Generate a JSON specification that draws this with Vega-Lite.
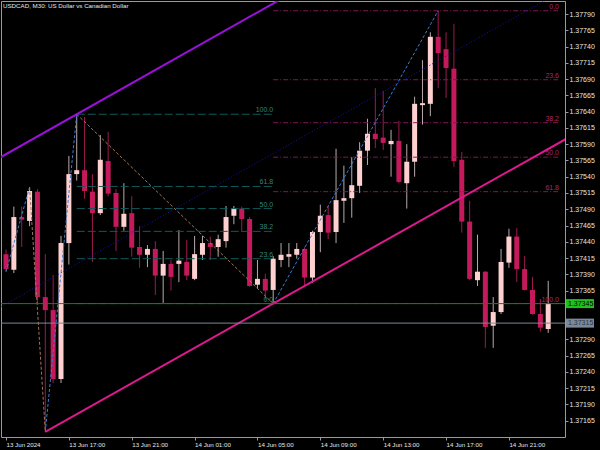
{
  "$schema": "https://vega.github.io/schema/vega-lite/v6.json",
  "width": 564,
  "height": 436,
  "autosize": {"type": "none"},
  "padding": {"left": 1, "top": 1, "right": 35, "bottom": 13},
  "background": "#000000",
  "config": {
    "view": {"stroke": "#9a9a9a", "strokeWidth": 1},
    "font": "Liberation Sans",
    "axis": {"labelFont": "Liberation Sans", "labelFontSize": 7, "labelColor": "#e6e6e6", "tickColor": "#9a9a9a", "domain": false, "grid": false, "title": null, "labelOverlap": false, "labelBound": false, "labelFlush": false},
    "axisX": {"labelFontSize": 6.2}
  },
  "title": {"text": "USDCAD, M30:  US Dollar vs Canadian Dollar", "anchor": "start", "frame": "group", "offset": -8, "fontSize": 6.2, "font": "Liberation Sans", "fontWeight": "normal", "color": "#e6e6e6", "dx": 2},
  "resolve": {"scale": {"color": "independent", "stroke": "independent"}},
  "datasets": {
    "bars": [
      {"t": "2024-06-13T13:00", "o": 1.37421, "h": 1.37428, "l": 1.37394, "c": 1.37398},
      {"t": "2024-06-13T13:30", "o": 1.37397, "h": 1.37494, "l": 1.37392, "c": 1.37478},
      {"t": "2024-06-13T14:00", "o": 1.37478, "h": 1.37494, "l": 1.37432, "c": 1.37474},
      {"t": "2024-06-13T14:30", "o": 1.37472, "h": 1.37524, "l": 1.37464, "c": 1.37518},
      {"t": "2024-06-13T15:00", "o": 1.37517, "h": 1.37521, "l": 1.37346, "c": 1.37355},
      {"t": "2024-06-13T15:30", "o": 1.37355, "h": 1.37421, "l": 1.37148, "c": 1.37335},
      {"t": "2024-06-13T16:00", "o": 1.37335, "h": 1.37389, "l": 1.37223, "c": 1.37229},
      {"t": "2024-06-13T16:30", "o": 1.37229, "h": 1.37449, "l": 1.37223, "c": 1.37438},
      {"t": "2024-06-13T17:00", "o": 1.37438, "h": 1.37572, "l": 1.37405, "c": 1.37544},
      {"t": "2024-06-13T17:30", "o": 1.37544, "h": 1.37636, "l": 1.37534, "c": 1.37550},
      {"t": "2024-06-13T18:00", "o": 1.37550, "h": 1.37632, "l": 1.37506, "c": 1.37518},
      {"t": "2024-06-13T18:30", "o": 1.37517, "h": 1.37544, "l": 1.37409, "c": 1.37484},
      {"t": "2024-06-13T19:00", "o": 1.37484, "h": 1.37604, "l": 1.37481, "c": 1.37566},
      {"t": "2024-06-13T19:30", "o": 1.37564, "h": 1.37609, "l": 1.37510, "c": 1.37514},
      {"t": "2024-06-13T20:00", "o": 1.37515, "h": 1.37521, "l": 1.37426, "c": 1.37463},
      {"t": "2024-06-13T20:30", "o": 1.37463, "h": 1.37530, "l": 1.37457, "c": 1.37483},
      {"t": "2024-06-13T21:00", "o": 1.37484, "h": 1.37510, "l": 1.37417, "c": 1.37431},
      {"t": "2024-06-13T21:30", "o": 1.37432, "h": 1.37464, "l": 1.37400, "c": 1.37420},
      {"t": "2024-06-13T22:00", "o": 1.37420, "h": 1.37435, "l": 1.37401, "c": 1.37429},
      {"t": "2024-06-13T22:30", "o": 1.37429, "h": 1.37441, "l": 1.37358, "c": 1.37388},
      {"t": "2024-06-13T23:00", "o": 1.37388, "h": 1.37426, "l": 1.37346, "c": 1.37406},
      {"t": "2024-06-13T23:30", "o": 1.37406, "h": 1.37412, "l": 1.37365, "c": 1.37386},
      {"t": "2024-06-14T00:00", "o": 1.37406, "h": 1.37458, "l": 1.37378, "c": 1.37411},
      {"t": "2024-06-14T00:30", "o": 1.37409, "h": 1.37443, "l": 1.37381, "c": 1.37388},
      {"t": "2024-06-14T01:00", "o": 1.37383, "h": 1.37449, "l": 1.37381, "c": 1.37421},
      {"t": "2024-06-14T01:30", "o": 1.37420, "h": 1.37449, "l": 1.37412, "c": 1.37438},
      {"t": "2024-06-14T02:00", "o": 1.37438, "h": 1.37448, "l": 1.37412, "c": 1.37432},
      {"t": "2024-06-14T02:30", "o": 1.37432, "h": 1.37451, "l": 1.37417, "c": 1.37444},
      {"t": "2024-06-14T03:00", "o": 1.37441, "h": 1.37495, "l": 1.37431, "c": 1.37478},
      {"t": "2024-06-14T03:30", "o": 1.37480, "h": 1.37495, "l": 1.37467, "c": 1.37491},
      {"t": "2024-06-14T04:00", "o": 1.37491, "h": 1.37494, "l": 1.37455, "c": 1.37475},
      {"t": "2024-06-14T04:30", "o": 1.37475, "h": 1.37478, "l": 1.37371, "c": 1.37372},
      {"t": "2024-06-14T05:00", "o": 1.37374, "h": 1.37412, "l": 1.37368, "c": 1.37383},
      {"t": "2024-06-14T05:30", "o": 1.37383, "h": 1.37391, "l": 1.37351, "c": 1.37365},
      {"t": "2024-06-14T06:00", "o": 1.37366, "h": 1.37418, "l": 1.37345, "c": 1.37414},
      {"t": "2024-06-14T06:30", "o": 1.37412, "h": 1.37438, "l": 1.37401, "c": 1.37420},
      {"t": "2024-06-14T07:00", "o": 1.37417, "h": 1.37438, "l": 1.37401, "c": 1.37421},
      {"t": "2024-06-14T07:30", "o": 1.37420, "h": 1.37438, "l": 1.37414, "c": 1.37429},
      {"t": "2024-06-14T08:00", "o": 1.37429, "h": 1.37432, "l": 1.37372, "c": 1.37385},
      {"t": "2024-06-14T08:30", "o": 1.37385, "h": 1.37457, "l": 1.37377, "c": 1.37455},
      {"t": "2024-06-14T09:00", "o": 1.37455, "h": 1.37497, "l": 1.37424, "c": 1.37480},
      {"t": "2024-06-14T09:30", "o": 1.37481, "h": 1.37495, "l": 1.37444, "c": 1.37454},
      {"t": "2024-06-14T10:00", "o": 1.37455, "h": 1.37583, "l": 1.37438, "c": 1.37504},
      {"t": "2024-06-14T10:30", "o": 1.37503, "h": 1.37557, "l": 1.37469, "c": 1.37507},
      {"t": "2024-06-14T11:00", "o": 1.37507, "h": 1.37570, "l": 1.37477, "c": 1.37527},
      {"t": "2024-06-14T11:30", "o": 1.37526, "h": 1.37593, "l": 1.37515, "c": 1.37580},
      {"t": "2024-06-14T12:00", "o": 1.37580, "h": 1.37629, "l": 1.37558, "c": 1.37606},
      {"t": "2024-06-14T12:30", "o": 1.37606, "h": 1.37676, "l": 1.37584, "c": 1.37598},
      {"t": "2024-06-14T13:00", "o": 1.37600, "h": 1.37672, "l": 1.37581, "c": 1.37592},
      {"t": "2024-06-14T13:30", "o": 1.37590, "h": 1.37612, "l": 1.37540, "c": 1.37595},
      {"t": "2024-06-14T14:00", "o": 1.37595, "h": 1.37626, "l": 1.37530, "c": 1.37532},
      {"t": "2024-06-14T14:30", "o": 1.37530, "h": 1.37590, "l": 1.37491, "c": 1.37563},
      {"t": "2024-06-14T15:00", "o": 1.37563, "h": 1.37663, "l": 1.37540, "c": 1.37652},
      {"t": "2024-06-14T15:30", "o": 1.37650, "h": 1.37719, "l": 1.37620, "c": 1.37653},
      {"t": "2024-06-14T16:00", "o": 1.37652, "h": 1.37762, "l": 1.37633, "c": 1.37755},
      {"t": "2024-06-14T16:30", "o": 1.37755, "h": 1.37795, "l": 1.37676, "c": 1.37730},
      {"t": "2024-06-14T17:00", "o": 1.37736, "h": 1.37762, "l": 1.37661, "c": 1.37707},
      {"t": "2024-06-14T17:30", "o": 1.37706, "h": 1.37775, "l": 1.37555, "c": 1.37564},
      {"t": "2024-06-14T18:00", "o": 1.37566, "h": 1.37578, "l": 1.37454, "c": 1.37471},
      {"t": "2024-06-14T18:30", "o": 1.37471, "h": 1.37503, "l": 1.37381, "c": 1.37383},
      {"t": "2024-06-14T19:00", "o": 1.37381, "h": 1.37451, "l": 1.37372, "c": 1.37394},
      {"t": "2024-06-14T19:30", "o": 1.37394, "h": 1.37395, "l": 1.37277, "c": 1.37309},
      {"t": "2024-06-14T20:00", "o": 1.37311, "h": 1.37355, "l": 1.37277, "c": 1.37332},
      {"t": "2024-06-14T20:30", "o": 1.37332, "h": 1.37429, "l": 1.37329, "c": 1.37409},
      {"t": "2024-06-14T21:00", "o": 1.37408, "h": 1.37460, "l": 1.37400, "c": 1.37448},
      {"t": "2024-06-14T21:30", "o": 1.37448, "h": 1.37461, "l": 1.37378, "c": 1.37398},
      {"t": "2024-06-14T22:00", "o": 1.37398, "h": 1.37418, "l": 1.37365, "c": 1.37366},
      {"t": "2024-06-14T22:30", "o": 1.37366, "h": 1.37386, "l": 1.37328, "c": 1.37329},
      {"t": "2024-06-14T23:00", "o": 1.37329, "h": 1.37352, "l": 1.37302, "c": 1.37308},
      {"t": "2024-06-14T23:30", "o": 1.37306, "h": 1.37380, "l": 1.37300, "c": 1.37345}
    ],
    "fib1": [
      {"lv": "100.0", "p": 1.37636, "t1": "2024-06-13T17:30", "t2": "2024-06-14T06:00"},
      {"lv": "61.8", "p": 1.37525, "t1": "2024-06-13T17:30", "t2": "2024-06-14T06:00"},
      {"lv": "50.0", "p": 1.37491, "t1": "2024-06-13T17:30", "t2": "2024-06-14T06:00"},
      {"lv": "38.2", "p": 1.37456, "t1": "2024-06-13T17:30", "t2": "2024-06-14T06:00"},
      {"lv": "23.6", "p": 1.37414, "t1": "2024-06-13T17:30", "t2": "2024-06-14T06:00"},
      {"lv": "0.0", "p": 1.37345, "t1": "2024-06-13T17:30", "t2": "2024-06-14T06:00"}
    ],
    "fib2": [
      {"lv": "0.0", "p": 1.37795, "t1": "2024-06-14T06:00", "t2": "2024-06-15T00:15"},
      {"lv": "23.6", "p": 1.37689, "t1": "2024-06-14T06:00", "t2": "2024-06-15T00:15"},
      {"lv": "38.2", "p": 1.37623, "t1": "2024-06-14T06:00", "t2": "2024-06-15T00:15"},
      {"lv": "50.0", "p": 1.37570, "t1": "2024-06-14T06:00", "t2": "2024-06-15T00:15"},
      {"lv": "61.8", "p": 1.37517, "t1": "2024-06-14T06:00", "t2": "2024-06-15T00:15"},
      {"lv": "100.0", "p": 1.37345, "t1": "2024-06-14T06:00", "t2": "2024-06-15T00:15"}
    ],
    "zigzag": [
      {"seg": 1, "leg": "up", "t": "2024-06-13T13:00", "p": 1.37394},
      {"seg": 1, "leg": "up", "t": "2024-06-13T14:30", "p": 1.37524},
      {"seg": 2, "leg": "down", "t": "2024-06-13T14:30", "p": 1.37524},
      {"seg": 2, "leg": "down", "t": "2024-06-13T15:30", "p": 1.37148},
      {"seg": 3, "leg": "up", "t": "2024-06-13T15:30", "p": 1.37148},
      {"seg": 3, "leg": "up", "t": "2024-06-13T17:30", "p": 1.37636},
      {"seg": 4, "leg": "down", "t": "2024-06-13T17:30", "p": 1.37636},
      {"seg": 4, "leg": "down", "t": "2024-06-14T06:00", "p": 1.37345},
      {"seg": 5, "leg": "up", "t": "2024-06-14T06:00", "p": 1.37345},
      {"seg": 5, "leg": "up", "t": "2024-06-14T16:30", "p": 1.37795}
    ],
    "channel": [
      {"name": "upper", "t": "2024-06-13T12:00", "p": 1.37561},
      {"name": "upper", "t": "2024-06-14T09:00", "p": 1.37847},
      {"name": "lower", "t": "2024-06-13T15:30", "p": 1.37148},
      {"name": "lower", "t": "2024-06-15T01:00", "p": 1.37603}
    ],
    "mid": [
      {"name": "mid", "t": "2024-06-13T12:00", "p": 1.37331},
      {"name": "mid", "t": "2024-06-15T01:00", "p": 1.37834}
    ],
    "hlines": [
      {"name": "bid", "p": 1.37345, "label": "1.37345"},
      {"name": "line", "p": 1.37315, "label": "1.37315"}
    ]
  },
  "layer": [
    {
      "data": {"name": "bars"},
      "mark": {"type": "rule", "strokeWidth": 1},
      "encoding": {
        "x": {
          "field": "t", "type": "temporal",
          "scale": {"domain": [{"year": 2024, "month": 6, "date": 13, "hours": 13, "minutes": 0}, {"year": 2024, "month": 6, "date": 15, "hours": 0, "minutes": 15}]},
          "axis": {
            "values": [
              {"year": 2024, "month": 6, "date": 13, "hours": 13},
              {"year": 2024, "month": 6, "date": 13, "hours": 17},
              {"year": 2024, "month": 6, "date": 13, "hours": 21},
              {"year": 2024, "month": 6, "date": 14, "hours": 1},
              {"year": 2024, "month": 6, "date": 14, "hours": 5},
              {"year": 2024, "month": 6, "date": 14, "hours": 9},
              {"year": 2024, "month": 6, "date": 14, "hours": 13},
              {"year": 2024, "month": 6, "date": 14, "hours": 17},
              {"year": 2024, "month": 6, "date": 14, "hours": 21}
            ],
            "tickCount": 50,
            "labelExpr": "timeFormat(datum.value, '%d %H') == '13 13' ? '13 Jun 2024' : timeFormat(datum.value, '%d %b %H:%M')",
            "labelAlign": "left", "labelBaseline": "top", "tickSize": 3, "labelPadding": 1
          }
        },
        "y": {
          "field": "l", "type": "quantitative",
          "scale": {"domain": [1.3714, 1.3781], "zero": false, "nice": false},
          "axis": {
            "orient": "right",
            "values": [1.37165, 1.3719, 1.37215, 1.3724, 1.37265, 1.3729, 1.37365, 1.3739, 1.37415, 1.3744, 1.37465, 1.3749, 1.37515, 1.3754, 1.37565, 1.3759, 1.37615, 1.3764, 1.37665, 1.3769, 1.37715, 1.3774, 1.37765, 1.3779],
            "tickCount": 100,
            "format": ".5f", "tickSize": 3, "labelPadding": 1, "labelBaseline": "middle"
          }
        },
        "y2": {"field": "h"},
        "color": {"condition": {"test": "datum.c >= datum.o", "value": "#b9aaaa"}, "value": "#9e1a50"}
      }
    },
    {
      "data": {"name": "bars"},
      "mark": {"type": "bar", "size": 5},
      "encoding": {
        "x": {"field": "t", "type": "temporal"},
        "y": {"field": "o", "type": "quantitative"},
        "y2": {"field": "c"},
        "color": {"condition": {"test": "datum.c >= datum.o", "value": "#ffd0d0"}, "value": "#c41a5c"}
      }
    },
    {
      "data": {"name": "fib1"},
      "mark": {"type": "rule", "strokeWidth": 1, "strokeDash": [8, 3], "color": "#0f5a5a", "clip": true},
      "encoding": {
        "x": {"field": "t1", "type": "temporal"},
        "x2": {"field": "t2"},
        "y": {"field": "p", "type": "quantitative"}
      }
    },
    {
      "data": {"name": "fib1"},
      "mark": {"type": "text", "align": "right", "baseline": "bottom", "dy": -1, "fontSize": 7, "color": "#2e8484"},
      "encoding": {
        "x": {"field": "t2", "type": "temporal"},
        "y": {"field": "p", "type": "quantitative"},
        "text": {"field": "lv"}
      }
    },
    {
      "data": {"name": "fib2"},
      "mark": {"type": "rule", "strokeWidth": 1, "strokeDash": [5, 2, 1, 2], "color": "#7d1b50", "clip": true},
      "encoding": {
        "x": {"field": "t1", "type": "temporal"},
        "x2": {"field": "t2"},
        "y": {"field": "p", "type": "quantitative"}
      }
    },
    {
      "data": {"name": "fib2"},
      "mark": {"type": "text", "align": "right", "baseline": "bottom", "dy": -1, "dx": -1, "fontSize": 7, "color": "#a8286c"},
      "encoding": {
        "x": {"field": "t2", "type": "temporal"},
        "y": {"field": "p", "type": "quantitative"},
        "text": {"field": "lv"}
      }
    },
    {
      "data": {"name": "zigzag"},
      "transform": [{"filter": "datum.leg == 'up'"}],
      "mark": {"type": "line", "strokeWidth": 1, "strokeDash": [3, 2], "color": "#3a7ed0", "clip": true},
      "encoding": {
        "x": {"field": "t", "type": "temporal"},
        "y": {"field": "p", "type": "quantitative"},
        "detail": {"field": "seg"}
      }
    },
    {
      "data": {"name": "zigzag"},
      "transform": [{"filter": "datum.leg == 'down'"}],
      "mark": {"type": "line", "strokeWidth": 1, "strokeDash": [3, 2], "color": "#a0785a", "clip": true},
      "encoding": {
        "x": {"field": "t", "type": "temporal"},
        "y": {"field": "p", "type": "quantitative"},
        "detail": {"field": "seg"}
      }
    },
    {
      "data": {"name": "mid"},
      "mark": {"type": "line", "strokeWidth": 1, "strokeDash": [1, 2], "color": "#1414b4", "clip": true},
      "encoding": {
        "x": {"field": "t", "type": "temporal"},
        "y": {"field": "p", "type": "quantitative"}
      }
    },
    {
      "data": {"name": "channel"},
      "transform": [{"filter": "datum.name == 'upper'"}],
      "mark": {"type": "line", "strokeWidth": 2, "color": "#9a10d8", "clip": true},
      "encoding": {
        "x": {"field": "t", "type": "temporal"},
        "y": {"field": "p", "type": "quantitative"}
      }
    },
    {
      "data": {"name": "channel"},
      "transform": [{"filter": "datum.name == 'lower'"}],
      "mark": {"type": "line", "strokeWidth": 2, "color": "#dc1a8e", "clip": true},
      "encoding": {
        "x": {"field": "t", "type": "temporal"},
        "y": {"field": "p", "type": "quantitative"}
      }
    },
    {
      "data": {"name": "hlines"},
      "transform": [{"filter": "datum.name == 'bid'"}],
      "mark": {"type": "rule", "strokeWidth": 1, "color": "#009000"},
      "encoding": {"y": {"field": "p", "type": "quantitative"}}
    },
    {
      "data": {"name": "hlines"},
      "transform": [{"filter": "datum.name == 'line'"}],
      "mark": {"type": "rule", "strokeWidth": 1, "color": "#7a8898"},
      "encoding": {"y": {"field": "p", "type": "quantitative"}}
    },
    {
      "data": {"name": "hlines"},
      "transform": [{"filter": "datum.name == 'bid'"}],
      "mark": {"type": "tick", "orient": "horizontal", "size": 28, "thickness": 9, "xOffset": 15, "color": "#20c020", "opacity": 1},
      "encoding": {
        "x": {"value": "width"},
        "y": {"field": "p", "type": "quantitative"}
      }
    },
    {
      "data": {"name": "hlines"},
      "transform": [{"filter": "datum.name == 'line'"}],
      "mark": {"type": "tick", "orient": "horizontal", "size": 28, "thickness": 9, "xOffset": 15, "color": "#7a8a9c", "opacity": 1},
      "encoding": {
        "x": {"value": "width"},
        "y": {"field": "p", "type": "quantitative"}
      }
    },
    {
      "data": {"name": "hlines"},
      "transform": [{"filter": "datum.name == 'bid'"}],
      "mark": {"type": "text", "align": "left", "baseline": "middle", "dx": 3, "fontSize": 7, "color": "#000000"},
      "encoding": {
        "x": {"value": "width"},
        "y": {"field": "p", "type": "quantitative"},
        "text": {"field": "label"}
      }
    },
    {
      "data": {"name": "hlines"},
      "transform": [{"filter": "datum.name == 'line'"}],
      "mark": {"type": "text", "align": "left", "baseline": "middle", "dx": 3, "fontSize": 7, "color": "#2c3644"},
      "encoding": {
        "x": {"value": "width"},
        "y": {"field": "p", "type": "quantitative"},
        "text": {"field": "label"}
      }
    }
  ]
}
